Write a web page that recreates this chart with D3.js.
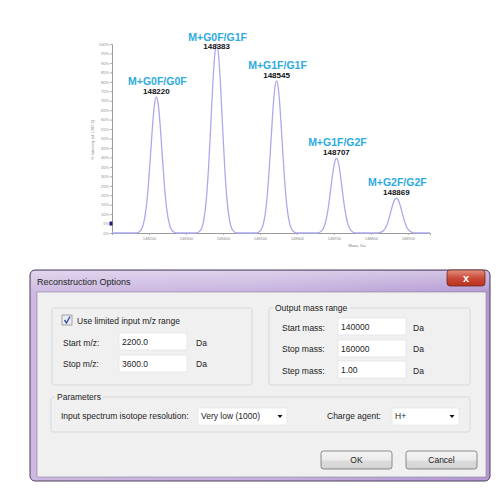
<!DOCTYPE html>
<html><head><meta charset="utf-8">
<script src="https://cdn.jsdelivr.net/npm/d3@7"></script>
<style>body{margin:0;background:#fff}svg{display:block}text{font-family:"Liberation Sans",Arial,sans-serif}</style>
</head><body>
<svg id="c" width="500" height="500"></svg>
<script>
// ---- Chart data ----
const peakMasses = [148220, 148383, 148545, 148707, 148869];
const peakHeights = [72, 100, 80.5, 39.5, 18.5];
const peakNames = ["M+G0F/G0F", "M+G0F/G1F", "M+G1F/G1F", "M+G1F/G2F", "M+G2F/G2F"];
const yTickValues = [0,5,10,15,20,25,30,35,40,45,50,55,60,65,70,75,80,85,90,95,100];
const xTickValues = [148200,148300,148400,148500,148600,148700,148800,148900];
const markerPoint = [148100, 5];
// reconstructed mass spectrum profile: [mass, % intensity]
const spectrum = [
 [148100,0],
 [148165,0],[148175,0.8],[148185,4.8],[148192,12.6],[148198,24.6],[148204,40.8],[148210,57.7],[148215,68.1],[148220,72],
 [148225,68.1],[148230,57.7],[148236,40.8],[148242,24.6],[148248,12.6],[148255,4.8],[148265,0.8],[148275,0],
 [148328,0],[148338,1.1],[148348,6.6],[148355,17.5],[148361,34.1],[148367,56.6],[148373,80.1],[148378,94.6],[148383,100],
 [148388,94.6],[148393,80.1],[148399,56.6],[148405,34.1],[148411,17.5],[148418,6.6],[148428,1.1],[148438,0],
 [148490,0],[148500,0.9],[148510,5.3],[148517,14.1],[148523,27.5],[148529,45.6],[148535,64.5],[148540,76.2],[148545,80.5],
 [148550,76.2],[148555,64.5],[148561,45.6],[148567,27.5],[148573,14.1],[148580,5.3],[148590,0.9],[148600,0],
 [148652,0],[148662,0.4],[148672,2.6],[148679,6.9],[148685,13.5],[148691,22.4],[148697,31.6],[148702,37.4],[148707,39.5],
 [148712,37.4],[148717,31.6],[148723,22.4],[148729,13.5],[148735,6.9],[148742,2.6],[148752,0.4],[148762,0],
 [148814,0],[148824,0.2],[148834,1.2],[148841,3.2],[148847,6.3],[148853,10.5],[148859,14.8],[148864,17.5],[148869,18.5],
 [148874,17.5],[148879,14.8],[148885,10.5],[148891,6.3],[148897,3.2],[148904,1.2],[148914,0.2],[148924,0],
 [148960,0]
];
// ---- Dialog content ----
const dialogTitle = "Reconstruction Options";
const inputLabels = ["Start m/z:", "Stop m/z:"];
const inputValues = ["2200.0", "3600.0"];
const outputLabels = ["Start mass:", "Stop mass:", "Step mass:"];
const outputValues = ["140000", "160000", "1.00"];
const unitLabel = "Da";

const svg = d3.select("#c");
const defs = svg.append("defs");

// ---------- chart ----------
const x = d3.scaleLinear().domain([148100, 148960]).range([112, 430]);
const y = d3.scaleLinear().domain([0, 100]).range([233, 44]);

const yAxis = svg.append("g").attr("transform","translate(112,0)")
  .call(d3.axisLeft(y).tickValues(yTickValues).tickSize(2).tickFormat(d=>d+"%"));
const xAxis = svg.append("g").attr("transform","translate(0,233)")
  .call(d3.axisBottom(x).tickValues(xTickValues).tickSize(2).tickFormat(d3.format("d")));
[yAxis, xAxis].forEach(g=>{
  g.select(".domain").attr("stroke","#9a9a9a").attr("stroke-width",1);
  g.selectAll(".tick line").attr("stroke","#aaa");
  g.selectAll(".tick text").attr("fill","#8a8a8a").style("font-size","4px");
});
yAxis.selectAll(".tick text").attr("x",-3);
xAxis.selectAll(".tick text").attr("y",4);

svg.append("text").attr("transform","translate(94,140) rotate(-90)")
  .attr("text-anchor","middle").attr("fill","#8a8a8a").style("font-size","4px")
  .text("% Intensity (of 1387.4)");
svg.append("text").attr("x",357).attr("y",247).attr("text-anchor","middle")
  .attr("fill","#7a7a7a").style("font-size","4px").text("Mass, Da");

svg.append("path").datum(spectrum)
  .attr("fill","none").attr("stroke","#aca9ec").attr("stroke-width",1.3)
  .attr("d", d3.line().x(d=>x(d[0])).y(d=>y(d[1])).curve(d3.curveMonotoneX));

svg.append("rect").attr("x",x(markerPoint[0])-2.5).attr("y",y(markerPoint[1])-2)
  .attr("width",3).attr("height",4).attr("fill","#1a1a80");

const lab = svg.append("g");
peakMasses.forEach((m,i)=>{
  const top = y(peakHeights[i]);
  lab.append("text").attr("x",x(m)+1).attr("y",Math.max(top-12,41))
    .attr("text-anchor","middle").attr("fill","#2dabe0")
    .style("font-size","10.5px").style("font-weight","bold").text(peakNames[i]);
  lab.append("text").attr("x",x(m)).attr("y",Math.max(top-3,49))
    .attr("text-anchor","middle").attr("fill","#111")
    .style("font-size","8px").style("font-weight","bold").text(m);
});

// ---------- dialog ----------
const gFrame = defs.append("linearGradient").attr("id","frame").attr("x1",0).attr("x2",1).attr("y1",0).attr("y2",0);
gFrame.append("stop").attr("offset",0).attr("stop-color","#cdb9e2");
gFrame.append("stop").attr("offset",0.5).attr("stop-color","#c6b1de");
gFrame.append("stop").attr("offset",1).attr("stop-color","#b398d2");
const gTitle = defs.append("linearGradient").attr("id","tbar").attr("x1",0).attr("x2",0).attr("y1",0).attr("y2",1);
gTitle.append("stop").attr("offset",0).attr("stop-color","#fff").attr("stop-opacity",0.4);
gTitle.append("stop").attr("offset",1).attr("stop-color","#fff").attr("stop-opacity",0.05);
const gClose = defs.append("linearGradient").attr("id","close").attr("x1",0).attr("x2",0).attr("y1",0).attr("y2",1);
gClose.append("stop").attr("offset",0).attr("stop-color","#e4907f");
gClose.append("stop").attr("offset",0.5).attr("stop-color","#cc4a38");
gClose.append("stop").attr("offset",1).attr("stop-color","#b8321f");
const gBtn = defs.append("linearGradient").attr("id","btn").attr("x1",0).attr("x2",0).attr("y1",0).attr("y2",1);
gBtn.append("stop").attr("offset",0).attr("stop-color","#f4f4f4");
gBtn.append("stop").attr("offset",0.5).attr("stop-color","#ebebeb");
gBtn.append("stop").attr("offset",0.55).attr("stop-color","#dddddd");
gBtn.append("stop").attr("offset",1).attr("stop-color","#d2d2d2");

const dlg = svg.append("g");
dlg.append("rect").attr("x",30).attr("y",270).attr("width",460).attr("height",211).attr("rx",5)
  .attr("fill","url(#frame)").attr("stroke","#4d4058").attr("stroke-width",1);
dlg.append("rect").attr("x",31).attr("y",271).attr("width",458).attr("height",20).attr("rx",4)
  .attr("fill","url(#tbar)");
dlg.append("rect").attr("x",37).attr("y",292).attr("width",449).attr("height",185)
  .attr("fill","#f0f0f0").attr("stroke","#8c7f9c").attr("stroke-width",0.6);
dlg.append("text").attr("x",37).attr("y",285).style("font-size","9px").attr("fill","#222").text(dialogTitle);

dlg.append("rect").attr("x",447).attr("y",270).attr("width",38).attr("height",16).attr("rx",3)
  .attr("fill","url(#close)").attr("stroke","#6e2a22").attr("stroke-width",0.8);
dlg.append("text").attr("x",466).attr("y",282).attr("text-anchor","middle").attr("fill","#fff")
  .style("font-size","11px").style("font-weight","bold").text("x");

function groupBox(x0,y0,w,h,title,tx){
  dlg.append("rect").attr("x",x0).attr("y",y0).attr("width",w).attr("height",h).attr("rx",2)
    .attr("fill","none").attr("stroke","#d5dbe0").attr("stroke-width",1);
  if(title){
    const t = dlg.append("text").attr("x",tx).attr("y",y0+3).style("font-size","8.5px").attr("fill","#222").text(title);
    const bb = t.node().getBBox();
    dlg.insert("rect", () => t.node()).attr("x",bb.x-2).attr("y",bb.y).attr("width",bb.width+4).attr("height",bb.height).attr("fill","#f0f0f0");
  }
}
groupBox(52,308,200,77,null);
groupBox(269,308,201,77,"Output mass range",275);
groupBox(51,397,419,35,"Parameters",57);

function label(x0,yb,s){ dlg.append("text").attr("x",x0).attr("y",yb).style("font-size","8.5px").attr("fill","#222").text(s); }
function input(x0,y0,w,h,val){
  dlg.append("rect").attr("x",x0).attr("y",y0).attr("width",w).attr("height",h)
    .attr("fill","#fff").attr("stroke","#dfe3e8").attr("stroke-width",0.8);
  label(x0+3,y0+12,val);
}

// checkbox
dlg.append("rect").attr("x",62).attr("y",315).attr("width",10).attr("height",10)
  .attr("fill","#e8edf5").attr("stroke","#8f8f8f").attr("stroke-width",0.8);
dlg.append("path").attr("d","M64.5,320 L66.5,323 L70,316.5").attr("fill","none")
  .attr("stroke","#3a4f9a").attr("stroke-width",1.4);
label(77,324,"Use limited input m/z range");

const leftRows = [346, 367], leftBoxes = [333, 355];
inputLabels.forEach((s,i)=>{
  label(63,leftRows[i],s);
  input(119,leftBoxes[i],68,17,inputValues[i]);
  label(196,leftRows[i],unitLabel);
});
const rightRows = [331, 352, 374], rightBoxes = [318, 340, 361];
outputLabels.forEach((s,i)=>{
  label(282,rightRows[i],s);
  input(338,rightBoxes[i],68,17,outputValues[i]);
  label(413,rightRows[i],unitLabel);
});

label(61,419,"Input spectrum isotope resolution:");
function dropdown(x0,w,val){
  dlg.append("rect").attr("x",x0).attr("y",408).attr("width",w).attr("height",17)
    .attr("fill","#fff").attr("stroke","#e2e5ea").attr("stroke-width",0.8);
  label(x0+3,419,val);
  const ax = x0+w-7;
  dlg.append("path").attr("d",`M${ax-2.5},415 L${ax+2.5},415 L${ax},418 Z`).attr("fill","#111");
}
dropdown(198,89,"Very low (1000)");
label(327,419,"Charge agent:");
dropdown(392,67,"H+");

function button(x0,s){
  dlg.append("rect").attr("x",x0).attr("y",451).attr("width",71).attr("height",18).attr("rx",2.5)
    .attr("fill","url(#btn)").attr("stroke","#707070").attr("stroke-width",0.8);
  dlg.append("text").attr("x",x0+35.5).attr("y",463).attr("text-anchor","middle")
    .style("font-size","8.5px").attr("fill","#222").text(s);
}
button(321,"OK");
button(406,"Cancel");
</script>
</body></html>
